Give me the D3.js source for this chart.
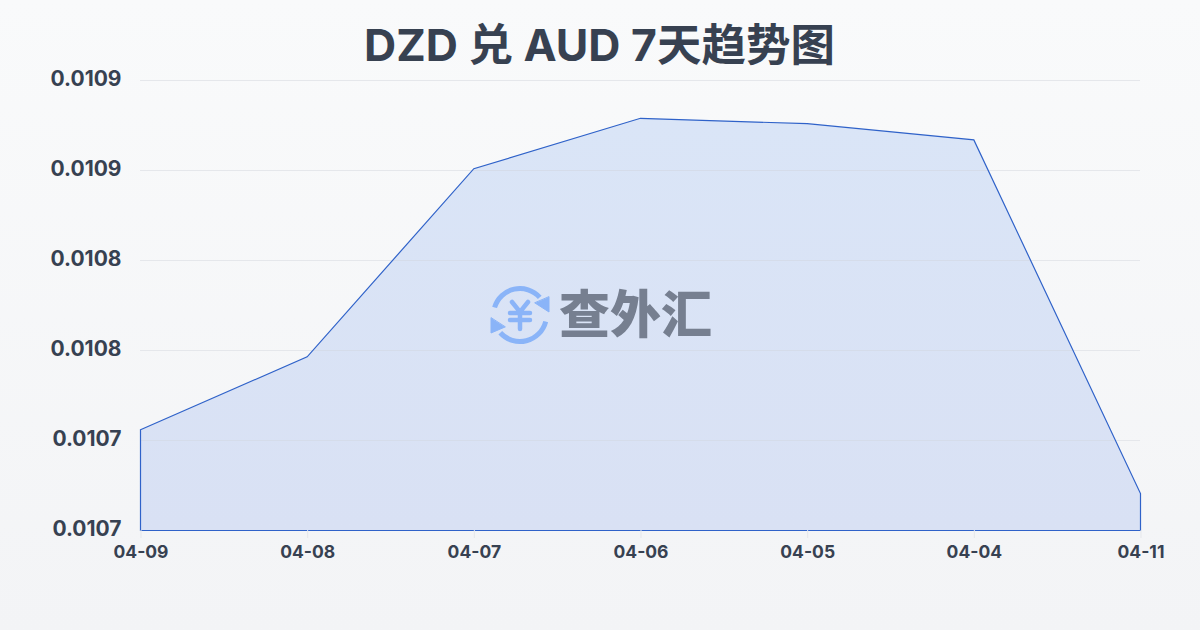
<!DOCTYPE html>
<html><head><meta charset="utf-8">
<script src="https://cdn.jsdelivr.net/npm/d3@7/dist/d3.min.js"></script>
<style>html,body{margin:0;padding:0;width:1200px;height:630px;overflow:hidden}svg{display:block}
text{font-family:Inter,"Noto Sans CJK SC",sans-serif}</style></head><body>
<svg id="c" width="1200" height="630"></svg>
<script>
const titleText = "DZD 兑 AUD 7天趋势图";
const dates = ["04-09","04-08","04-07","04-06","04-05","04-04","04-11"];
const rates = [0.010706,0.0107465,0.010851,0.010879,0.010876,0.010867,0.0106705];
const yTicks = [0.01065,0.0107,0.01075,0.0108,0.01085,0.0109];
const yTickLabels = ["0.0107","0.0107","0.0108","0.0108","0.0109","0.0109"];
const watermark = "查外汇";

const svg = d3.select("#c");
const defs = svg.append("defs");
const bg = defs.append("linearGradient").attr("id","bg").attr("x1",0).attr("y1",0).attr("x2",0).attr("y2",1);
bg.append("stop").attr("offset",0).attr("stop-color","#f9fafb");
bg.append("stop").attr("offset",1).attr("stop-color","#f3f4f6");
const ag = defs.append("linearGradient").attr("id","ag").attr("gradientUnits","userSpaceOnUse").attr("x1",0).attr("y1",118).attr("x2",0).attr("y2",530);
ag.append("stop").attr("offset",0).attr("stop-color","#dae5f7");
ag.append("stop").attr("offset",1).attr("stop-color","#d9e1f4");
svg.append("rect").attr("width",1200).attr("height",630).attr("fill","url(#bg)");

const x = d3.scalePoint().domain(dates).range([140.5,1140.5]);
const y = d3.scaleLinear().domain([0.01065,0.0109]).range([530.5,80.5]);

svg.append("text").attr("x",599.5).attr("y",61).attr("text-anchor","middle")
  .attr("font-size",44.5).attr("font-weight",700).attr("fill","#374151").text(titleText);

svg.append("g").selectAll("line").data(yTicks).join("line")
  .attr("x1",140).attr("x2",1140).attr("y1",d=>y(d)).attr("y2",d=>y(d))
  .attr("stroke","#e5e7eb").attr("stroke-width",1);

const area = d3.area().x((d,i)=>x(dates[i])).y0(y(0.01065)).y1(d=>y(d));
svg.append("path").datum(rates).attr("d",area).attr("fill","url(#ag)");
defs.append("clipPath").attr("id","areaClip").append("path").datum(rates).attr("d",area);
svg.append("g").selectAll("line").data(yTicks.slice(1)).join("line")
  .attr("x1",140).attr("x2",1140).attr("y1",d=>y(d)).attr("y2",d=>y(d))
  .attr("stroke","#d5dcea").attr("stroke-width",1)
  .attr("clip-path","url(#areaClip)");
svg.append("path").datum(rates).attr("d",area).attr("fill","none").attr("stroke","#2f62c9").attr("stroke-width",1.2);

const gx = svg.append("g").attr("transform","translate(0,530)").call(d3.axisBottom(x).tickSize(8).tickPadding(6));
gx.select(".domain").remove();
gx.selectAll("line").attr("stroke","#e5e7eb");
gx.selectAll("text").attr("font-size",17.5).attr("font-weight",700).attr("fill","#374151").attr("dy","0.82em");
const gy = svg.append("g").attr("transform","translate(140,0)")
  .call(d3.axisLeft(y).tickValues(yTicks).tickFormat((d,i)=>yTickLabels[i]).tickSize(0).tickPadding(18.5));
gy.select(".domain").remove();
gy.selectAll("text").attr("font-size",21).attr("font-weight",700).attr("fill","#374151").attr("dy","0.22em");

const wm = svg.append("g");
const blue = "#8ab4f8";
const ic = wm.append("g").attr("transform","translate(520,315)").attr("fill","none").attr("stroke",blue).attr("stroke-linecap","round");
const arc = d3.arc().innerRadius(26.5).outerRadius(26.5);
ic.append("path").attr("d",arc({startAngle:-1.28,endAngle:0.84})).attr("stroke-width",5);
ic.append("path").attr("d",arc({startAngle:1.82,endAngle:3.98})).attr("stroke-width",5);
ic.append("path").attr("d","M29,-18 L29,-3 L15,-12 Z").attr("fill",blue).attr("stroke",blue).attr("stroke-width",1);
ic.append("path").attr("d","M-29,3 L-29,18 L-15,12 Z").attr("fill",blue).attr("stroke",blue).attr("stroke-width",1);
ic.append("path").attr("d","M-8,-13 L0,-3 L8,-13 M-10,-2 H10 M-10,5 H10 M0,-3 V14").attr("stroke-width",4.5);
wm.append("text").attr("x",635.5).attr("y",333).attr("text-anchor","middle").attr("font-size",51).attr("font-weight",900)
  .attr("fill","#767f90").style("font-family",'"Noto Sans CJK SC"').text(watermark);
</script></body></html>
